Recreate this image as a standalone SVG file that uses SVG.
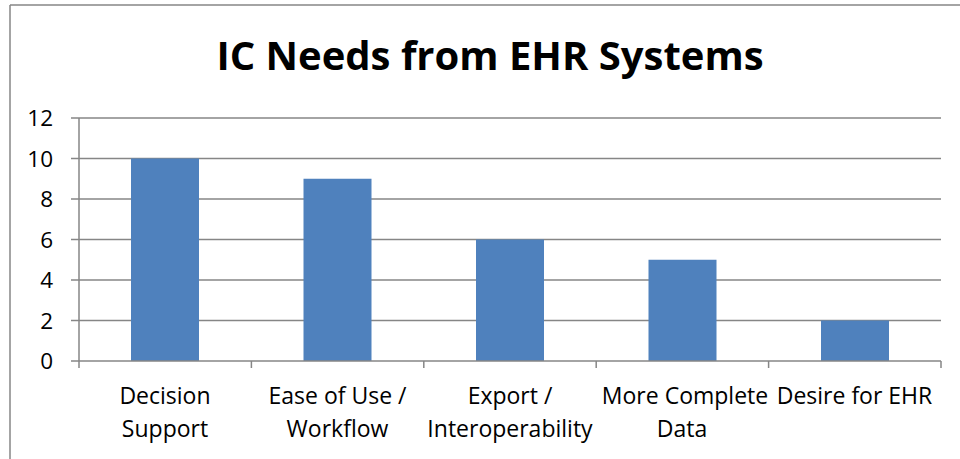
<svg xmlns="http://www.w3.org/2000/svg" width="960" height="459" viewBox="0 0 960 459">
<style>
.grid{stroke:#868686;stroke-width:1.5;fill:none}
.bar{fill:#4F81BD}
.lbl{font-family:"Open Sans","Liberation Sans",sans-serif;font-size:23px;fill:#000;text-anchor:middle}
.ylbl{font-family:"Open Sans","Liberation Sans",sans-serif;font-size:22.5px;fill:#000;text-anchor:end}
.title{font-family:"Open Sans","Liberation Sans",sans-serif;font-size:40px;font-weight:bold;fill:#000;text-anchor:middle}
</style>
<rect x="0" y="0" width="960" height="459" fill="#fff"/>
<g id="frame">
<line class="grid" x1="10" y1="5" x2="960" y2="5"/>
<line class="grid" x1="10" y1="5" x2="10" y2="459" stroke-width="2"/>
</g>
<g id="title"><text class="title" x="490" y="70">IC Needs from EHR Systems</text></g>
<g id="gridlines">
<line class="grid" x1="71" y1="118" x2="941" y2="118"/>
<line class="grid" x1="71" y1="158.5" x2="941" y2="158.5"/>
<line class="grid" x1="71" y1="199" x2="941" y2="199"/>
<line class="grid" x1="71" y1="239.5" x2="941" y2="239.5"/>
<line class="grid" x1="71" y1="280" x2="941" y2="280"/>
<line class="grid" x1="71" y1="320.5" x2="941" y2="320.5"/>
<line class="grid" x1="79" y1="118" x2="79" y2="361"/>
</g>
<g id="y-labels">
<text class="ylbl" x="53" y="126">12</text>
<text class="ylbl" x="53" y="166.5">10</text>
<text class="ylbl" x="53" y="207">8</text>
<text class="ylbl" x="53" y="247.5">6</text>
<text class="ylbl" x="53" y="288">4</text>
<text class="ylbl" x="53" y="328.5">2</text>
<text class="ylbl" x="53" y="369">0</text>
</g>
<g id="bars">
<rect id="bar-decision" class="bar" x="131" y="158.5" width="68" height="202.5"/>
<rect id="bar-ease" class="bar" x="303.5" y="178.75" width="68" height="182.25"/>
<rect id="bar-export" class="bar" x="476" y="239.5" width="68" height="121.5"/>
<rect id="bar-complete" class="bar" x="648.5" y="259.75" width="68" height="101.25"/>
<rect id="bar-desire" class="bar" x="821" y="320.5" width="68" height="40.5"/>
</g>
<g id="x-axis">
<line class="grid" x1="71" y1="361" x2="941" y2="361"/>
<line class="grid" x1="79" y1="361" x2="79" y2="368"/>
<line class="grid" x1="251.4" y1="361" x2="251.4" y2="368"/>
<line class="grid" x1="423.8" y1="361" x2="423.8" y2="368"/>
<line class="grid" x1="596.2" y1="361" x2="596.2" y2="368"/>
<line class="grid" x1="768.6" y1="361" x2="768.6" y2="368"/>
<line class="grid" x1="941" y1="361" x2="941" y2="368"/>
</g>
<g id="x-labels">
<text class="lbl" x="165" y="404">Decision</text>
<text class="lbl" x="165" y="437">Support</text>
<text class="lbl" x="337.5" y="404">Ease of Use /</text>
<text class="lbl" x="337.5" y="437">Workflow</text>
<text class="lbl" x="510" y="404">Export /</text>
<text class="lbl" x="510" y="437">Interoperability</text>
<text class="lbl" x="685" y="404">More Complete</text>
<text class="lbl" x="682" y="437">Data</text>
<text class="lbl" x="854.5" y="404">Desire for EHR</text>
</g>
</svg>
